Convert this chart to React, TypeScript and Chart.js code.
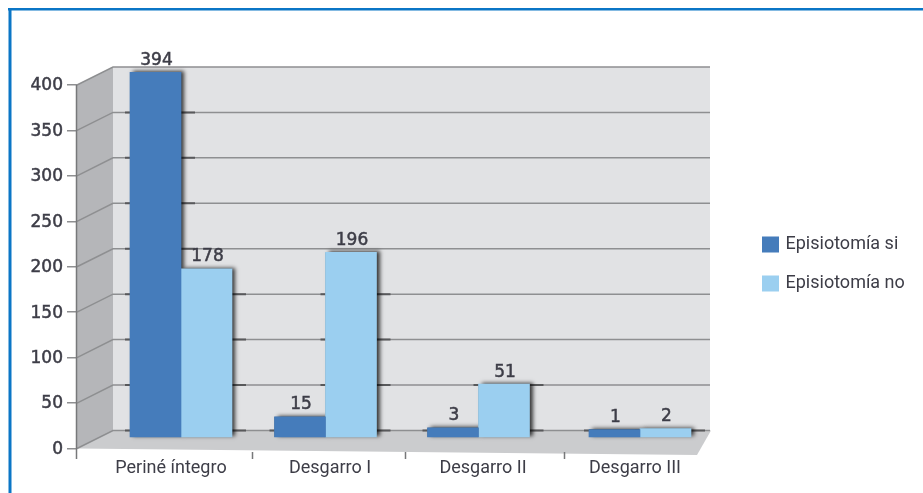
import React, { useEffect, useRef } from "react";
import { Chart, registerables, CategoryScale } from "chart.js";

const categories = ["Periné íntegro", "Desgarro I", "Desgarro II", "Desgarro III"];
const episiotomiaSi = [394, 15, 3, 1];
const episiotomiaNo = [178, 196, 51, 2];
const yTickValues = [0, 50, 100, 150, 200, 250, 300, 350, 400];

// Layout of the pseudo-3D box
const DEPTH_X = 36;
const DEPTH_Y = 18;
const BACK_RIGHT = 710;
const FLOOR_FRONT_RIGHT = 697;
const FLOOR_FRONT_Y = 455;
const axisNotches = [77, 253, 406, 565];
const labelCenters = [171, 330, 483, 635];

// The y axis reads on the front edge of the wall, bars stand on the back wall's zero.
const Y_MAX = 455;
const BAR_SCALE_SHIFT = 19.8;
const BAR_FOOT = -7;

const TEXT = "#3d3d47";
const FONT = "DejaVu Sans";
const LABEL_FONT = "Roboto";

// Category axis whose groups spread slightly toward the right, as in a perspective view.
class FlaredCategoryScale extends CategoryScale {
  static id = "flaredCategory";
  static defaults = CategoryScale.defaults;
  getPixelForValue(value: any) {
    const i = typeof value === "number" ? value : (this as any).parse(value);
    return this.left + 104 + 140.25 * i + 4.25 * i * i;
  }
  getPixelForTick(index: number) {
    return labelCenters[index];
  }
}

Chart.register(...registerables, FlaredCategoryScale as any);

const boxPlugin = {
  id: "box3d",
  beforeInit(chart: any) {
    // Fixed legend width so the entries start where the layout wants them.
    const legend = chart.legend;
    const fit = legend.fit;
    legend.fit = function () {
      fit.call(legend);
      legend.width = 179.5;
    };
  },
  beforeDatasetsDraw(chart: any) {
    const { ctx, scales } = chart;
    const y = scales.y;
    const left = y.right;
    const zero = y.getPixelForValue(0);
    const top = y.getPixelForValue(400);
    const backLeft = left + DEPTH_X;

    ctx.save();
    // Page frame
    ctx.fillStyle = "#0b76c6";
    ctx.fillRect(8, 8, 915, 2.5);
    ctx.fillRect(8.5, 8, 3, 485);

    // Back wall
    ctx.fillStyle = "#e1e2e4";
    ctx.fillRect(backLeft, top - DEPTH_Y, BACK_RIGHT - backLeft, zero - top);
    // Side wall
    ctx.fillStyle = "#b5b6b9";
    ctx.beginPath();
    ctx.moveTo(left, top);
    ctx.lineTo(backLeft, top - DEPTH_Y);
    ctx.lineTo(backLeft, zero - DEPTH_Y);
    ctx.lineTo(left, zero);
    ctx.closePath();
    ctx.fill();
    // Floor
    ctx.fillStyle = "#cbccce";
    ctx.beginPath();
    ctx.moveTo(left, zero);
    ctx.lineTo(backLeft, zero - DEPTH_Y);
    ctx.lineTo(BACK_RIGHT + 1, zero - DEPTH_Y);
    ctx.lineTo(FLOOR_FRONT_RIGHT, FLOOR_FRONT_Y);
    ctx.closePath();
    ctx.fill();

    // Grid lines, folded across the side wall
    ctx.strokeStyle = "#8e8f91";
    ctx.lineWidth = 1.5;
    for (const tick of y.ticks) {
      const py = y.getPixelForValue(tick.value);
      ctx.beginPath();
      ctx.moveTo(left, py);
      ctx.lineTo(backLeft, py - DEPTH_Y);
      ctx.lineTo(BACK_RIGHT, py - DEPTH_Y);
      ctx.stroke();
    }

    // Wall edge and the notches under the floor
    ctx.strokeStyle = "#77787a";
    ctx.beginPath();
    ctx.moveTo(left - 0.5, top);
    ctx.lineTo(left - 0.5, zero + 10.5);
    for (const nx of axisNotches) {
      ctx.moveTo(nx - 0.5, zero + 3.5);
      ctx.lineTo(nx - 0.5, zero + 10.5);
    }
    ctx.stroke();

    const bars: any[] = [];
    chart.getSortedVisibleDatasetMetas().forEach((meta: any) => bars.push(...meta.data));

    // Bar shadows darken the grid lines behind them
    ctx.strokeStyle = "#58595b";
    ctx.lineWidth = 2;
    for (const bar of bars) {
      for (const tick of y.ticks) {
        const py = y.getPixelForValue(tick.value) - DEPTH_Y;
        if (py < bar.y - 3) continue;
        ctx.beginPath();
        ctx.moveTo(bar.x - bar.width / 2 - 5, py);
        ctx.lineTo(bar.x + bar.width / 2 + 14, py);
        ctx.stroke();
      }
    }

    // Soft shadow to the right of every bar, laid down before any bar is painted
    ctx.shadowColor = "rgba(0,0,0,0.75)";
    ctx.shadowBlur = 4;
    ctx.shadowOffsetX = 3;
    ctx.shadowOffsetY = -1;
    ctx.fillStyle = "#444";
    for (const bar of bars) {
      ctx.fillRect(bar.x - bar.width / 2, bar.y, bar.width, bar.base - bar.y);
    }
    ctx.restore();
  },
  afterDatasetsDraw(chart: any) {
    const { ctx } = chart;
    ctx.save();
    ctx.fillStyle = TEXT;
    ctx.strokeStyle = TEXT;
    ctx.lineWidth = 0.5;
    ctx.font = `17px "${FONT}"`;
    ctx.textAlign = "center";
    ctx.textBaseline = "middle";
    chart.getSortedVisibleDatasetMetas().forEach((meta: any) => {
      const values = chart.data.datasets[meta.index].data;
      meta.data.forEach((bar: any, i: number) => {
        ctx.fillText(String(values[i]), bar.x + 1, bar.y - 12);
        ctx.strokeText(String(values[i]), bar.x + 1, bar.y - 12);
      });
    });
    ctx.restore();
  },
};

export default function App() {
  const ref = useRef<HTMLCanvasElement>(null);
  useEffect(() => {
    const chart = new Chart(ref.current as HTMLCanvasElement, {
      type: "bar",
      data: {
        labels: categories,
        datasets: [
          { label: "Episiotomía si", data: episiotomiaSi, backgroundColor: "#457cbb", yAxisID: "yBars", base: BAR_FOOT, barThickness: 51 },
          { label: "Episiotomía no", data: episiotomiaNo, backgroundColor: "#9bcff0", yAxisID: "yBars", base: BAR_FOOT, barThickness: 51 },
        ] as any,
      },
      options: {
        animation: false,
        responsive: false,
        layout: { padding: { top: 35, left: 0, right: 0, bottom: 0 } },
        plugins: {
          tooltip: { enabled: false },
          legend: {
            position: "right",
            labels: {
              boxWidth: 12,
              boxHeight: 11,
              padding: 21,
              color: TEXT,
              font: { family: LABEL_FONT, size: 18 },
              generateLabels: (c: any) =>
                (Chart.defaults.plugins.legend.labels as any).generateLabels(c).map((item: any) => ({
                  ...item,
                  lineWidth: 5,
                  strokeStyle: item.fillStyle,
                })),
            },
          },
        },
        scales: {
          x: {
            type: "flaredCategory",
            grid: { display: false },
            border: { display: false },
            ticks: { color: TEXT, font: { family: LABEL_FONT, size: 18 }, padding: 1, autoSkip: false, maxRotation: 0 },
            afterFit: (s: any) => { s.height = 44.5; },
          },
          y: {
            position: "left",
            min: 0,
            max: Y_MAX,
            afterBuildTicks: (s: any) => { s.ticks = yTickValues.map((value) => ({ value })); },
            grid: { drawOnChartArea: false, tickLength: 10, color: "#8e8f91", lineWidth: 1.5 },
            border: { display: false },
            ticks: { color: TEXT, font: { family: FONT, size: 17 }, padding: 4, labelOffset: 1, textStrokeColor: TEXT, textStrokeWidth: 0.5 },
            afterFit: (s: any) => { s.width = 77; },
          },
          yBars: {
            position: "right",
            min: -BAR_SCALE_SHIFT,
            max: Y_MAX - BAR_SCALE_SHIFT,
            grid: { display: false },
            border: { display: false },
            ticks: { display: false },
            afterFit: (s: any) => { s.width = 46.5; },
          },
        },
      } as any,
      plugins: [boxPlugin],
    });
    return () => chart.destroy();
  }, []);
  return (
    <div style={{ position: "absolute", left: 0, top: 0, width: 923, height: 493, overflow: "hidden", background: "#fff" }}>
      <canvas ref={ref} width={923} height={493} style={{ display: "block" }} />
    </div>
  );
}
